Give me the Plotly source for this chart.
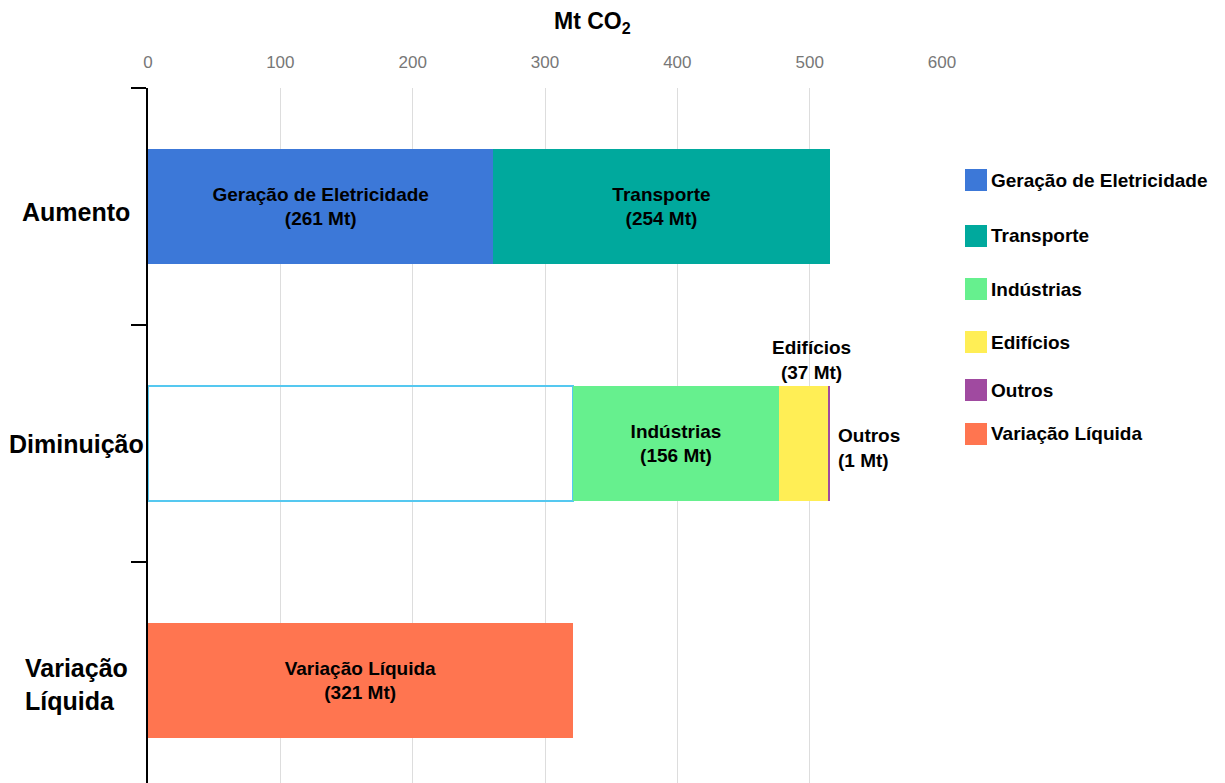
import plotly.graph_objects as go

# ---- data ----
categories = ["Aumento", "Diminuição", "Variação Líquida"]
category_labels = ["Aumento", "Diminuição", "Variação<br>Líquida"]

series_names = ["Geração de Eletricidade", "Transporte", "Indústrias", "Edifícios", "Outros", "Variação Líquida"]
series_colors = ["#3c78d8", "#00a99d", "#66f08e", "#ffee55", "#a04aa0", "#ff7550"]
# values per category (Aumento, Diminuição, Variação Líquida)
series_values = {
    "Geração de Eletricidade": [261, 0, 0],
    "Transporte": [254, 0, 0],
    "Indústrias": [0, 156, 0],
    "Edifícios": [0, 37, 0],
    "Outros": [0, 1, 0],
    "Variação Líquida": [0, 0, 321],
}
# invisible offset for the "Diminuição" bar (equals the net variation)
offset_values = [0, 321, 0]

x_ticks = [0, 100, 200, 300, 400, 500, 600]

# ---- layout constants ----
W, H = 1225, 783
L, R, T, B = 148, 283, 88, 0
PW, PH = W - L - R, H - T - B
BAR_W = 0.485
FONT = "Liberation Sans, Arial, sans-serif"
LBL = 19


def px_x(px):
    return (px - L) / PW


def px_y(py):
    return 1 - (py - T) / PH


fig = go.Figure()

# offset bar (outlined, transparent)
oc = [c for c, v in zip(categories, offset_values) if v]
ov = [v for v in offset_values if v]
fig.add_trace(go.Bar(
    y=oc, x=ov, orientation="h", width=BAR_W,
    marker=dict(color="rgba(0,0,0,0)", line=dict(color="#55c8f0", width=1.5)),
    showlegend=False, hoverinfo="skip", textposition="none",
))

inside_labels = {"Geração de Eletricidade", "Transporte", "Indústrias", "Variação Líquida"}
for name, color in zip(series_names, series_colors):
    cats = [c for c, v in zip(categories, series_values[name]) if v]
    vals = [v for v in series_values[name] if v]
    if name in inside_labels:
        kw = dict(
            text=[f"{name}<br>({v} Mt)" for v in vals], textposition="inside",
            insidetextanchor="middle", textangle=0, constraintext="none",
            textfont=dict(family=FONT, size=LBL, color="black", weight="bold"),
        )
    else:
        kw = dict(textposition="none")
    fig.add_trace(go.Bar(
        y=cats, x=vals, orientation="h", width=BAR_W, name=name,
        marker=dict(color=color, line=dict(width=0)),
        showlegend=False, **kw,
    ))

annotations = []

# labels for small segments
dim_idx = categories.index("Diminuição")
base = offset_values[dim_idx] + series_values["Indústrias"][dim_idx]
edif = series_values["Edifícios"][dim_idx]
outros = series_values["Outros"][dim_idx]
annotations.append(dict(
    x=base + edif / 2, y=dim_idx - BAR_W / 2, xref="x", yref="y",
    text=f"Edifícios<br>({edif} Mt)", showarrow=False, xanchor="center", yanchor="bottom",
    xshift=8, yshift=1, font=dict(family=FONT, size=LBL, color="black", weight="bold"),
))
annotations.append(dict(
    x=base + edif + outros, y=dim_idx, xref="x", yref="y",
    text=f"Outros<br>({outros} Mt)", showarrow=False, xanchor="left", yanchor="middle",
    align="left", xshift=6, yshift=-4, font=dict(family=FONT, size=LBL, color="black", weight="bold"),
))

# category labels (centered)
label_shift = [-5, 0, -4]
for i, lab in enumerate(category_labels):
    annotations.append(dict(
        x=px_x(76), y=i, xref="paper", yref="y", text=lab, showarrow=False,
        xanchor="center", yanchor="middle", align="left", yshift=label_shift[i],
        font=dict(family=FONT, size=25, color="black", weight="bold"),
    ))

# axis title
annotations.append(dict(
    x=px_x(592), y=px_y(22), xref="paper", yref="paper", text="Mt CO<sub>2</sub>",
    showarrow=False, xanchor="center", yanchor="middle",
    font=dict(family=FONT, size=23, color="black", weight="bold"),
))

# custom legend
legend_rows_px = [180, 236, 289, 342, 390, 434]
shapes = []
for name, color, ry in zip(series_names, series_colors, legend_rows_px):
    shapes.append(dict(
        type="rect", xref="paper", yref="paper",
        x0=px_x(965), x1=px_x(987), y0=px_y(ry - 11), y1=px_y(ry + 11),
        fillcolor=color, line=dict(width=0),
    ))
    annotations.append(dict(
        x=px_x(989), y=px_y(ry), xref="paper", yref="paper", text=name, showarrow=False,
        xanchor="left", yanchor="middle",
        font=dict(family=FONT, size=LBL, color="black", weight="bold"),
    ))

fig.update_layout(
    width=W, height=H,
    margin=dict(l=L, r=R, t=T, b=B, pad=0),
    barmode="stack",
    plot_bgcolor="white", paper_bgcolor="white",
    showlegend=False,
    annotations=annotations, shapes=shapes,
    xaxis=dict(
        side="top", range=[0, 600], tickvals=x_ticks, showgrid=True,
        gridcolor="#dddddd", gridwidth=1, zeroline=False, showline=False,
        tickfont=dict(family=FONT, size=17, color="#777777"),
        ticks="", ticklabelstandoff=16,
    ),
    yaxis=dict(
        type="category", categoryorder="array", categoryarray=categories,
        range=[-0.5 + PH / 237, -0.5],
        showline=True, linecolor="black", linewidth=1.5,
        ticks="outside", ticklen=15, tickcolor="black", tickwidth=1.5,
        tickson="boundaries", showticklabels=False, showgrid=False, zeroline=False,
    ),
)

fig.write_html("out.html", config={"displayModeBar": False},
               post_script="document.body.style.margin='0';")
